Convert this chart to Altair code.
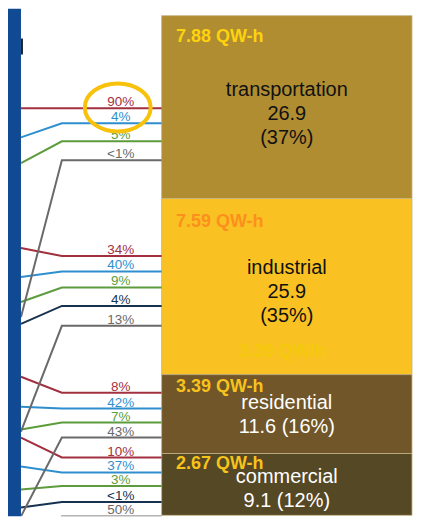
import altair as alt
import pandas as pd

# ---------------- data ----------------
sectors = ["transportation", "industrial", "residential", "commercial"]
sector_energy = [26.9, 25.9, 11.6, 9.1]
sector_share = [37, 35, 16, 12]
sector_qwh = ["7.88 QW-h", "7.59 QW-h", "3.39 QW-h", "2.67 QW-h"]

line_sector = (["transportation"] * 4 + ["industrial"] * 5 +
               ["residential"] * 4 + ["commercial"] * 5)
line_source = ["petroleum", "natural gas", "renewables", "electricity",
               "petroleum", "natural gas", "renewables", "coal", "electricity",
               "petroleum", "natural gas", "renewables", "electricity",
               "petroleum", "natural gas", "renewables", "coal", "electricity"]
line_label = ["90%", "4%", "5%", "<1%",
              "34%", "40%", "9%", "4%", "13%",
              "8%", "42%", "7%", "43%",
              "10%", "37%", "3%", "<1%", "50%"]
# vertical level (energy units, stacked from top) of the horizontal run into each box
line_level = [13.64, 15.84, 18.49, 21.27,
              35.36, 37.63, 39.98, 42.69, 45.63,
              55.46, 57.80, 59.86, 62.06,
              64.99, 67.19, 69.17, 71.52, 73.65]
# level where each flow enters the visible panel
line_origin = [13.64, 17.90, 21.71, 44.31,
               34.18, 38.44, 42.11, 45.33, 61.18,
               53.11, 57.51, 60.88, 73.65,
               62.06, 66.31, 69.69, 72.33, 87.30]

# ---------------- layout / style ----------------
PANEL_X, BEND_X, BOX_X0, BOX_X1 = 21, 62, 162, 413
PCT_X, QW_X, NAME_X = 121, 176.5, 287.5
qw_anchor = [3.81, 31.10, 55.31, 66.75]
name_anchor = [11.81, 38.00, 57.80, 68.81]

box_colors = ["#b08d31", "#f9c222", "#705628", "#554825"]
qw_colors = ["#fdd20e", "#fd8f1e", "#f7c31a", "#f7c31a"]
name_colors = ["#111111", "#111111", "#ffffff", "#ffffff"]
src_domain = ["petroleum", "natural gas", "renewables", "coal", "electricity"]
src_range = ["#a2303f", "#2f8fce", "#5c9c3c", "#16324f", "#6a6a6a"]
FONT = "Liberation Sans"

xs = alt.Scale(domain=[8, 413], nice=False, zero=False)
ys = alt.Scale(domain=[-1.03, 73.65], reverse=True, nice=False, zero=False)

# ---------------- tables ----------------
starts, acc = [], 0.0
for v in sector_energy:
    starts.append(acc)
    acc += v
boxes = pd.DataFrame({
    "sector": sectors,
    "y0": starts,
    "y1": [s + v for s, v in zip(starts, sector_energy)],
    "x0": BOX_X0, "x1": BOX_X1,
    "fill": box_colors,
})

name_lines = []
for name, v, p in zip(sectors, sector_energy, sector_share):
    if v > 20:
        name_lines.append([name, f"{v}", f"({p}%)"])
    else:
        name_lines.append([name, f"{v} ({p}%)"])
texts = pd.DataFrame({
    "sector": sectors, "qw": sector_qwh, "qw_color": qw_colors,
    "qw_y": qw_anchor, "name_y": name_anchor, "name_color": name_colors,
    "lines": name_lines, "qx": QW_X, "nx": NAME_X,
})

rows = []
for i in range(len(line_label)):
    pts = [(PANEL_X, line_origin[i]), (BEND_X, line_level[i]), (BOX_X0, line_level[i])]
    for k, (x, y) in enumerate(pts):
        rows.append({"id": i, "k": k, "x": x, "y": y, "source": line_source[i]})
lines = pd.DataFrame(rows)
labels = pd.DataFrame({"label": line_label, "source": line_source,
                       "y": line_level, "x": PCT_X})

src_color = alt.Color("source:N", scale=alt.Scale(domain=src_domain, range=src_range), legend=None)

# ---------------- layers ----------------
box_layer = alt.Chart(boxes).mark_rect(stroke="#c4b283", strokeWidth=1, strokeOpacity=0.8).encode(
    x=alt.X("x0:Q", scale=xs, axis=None), x2="x1:Q",
    y=alt.Y("y0:Q", scale=ys, axis=None), y2="y1:Q",
    color=alt.Color("fill:N", scale=None),
)

def line_layer(df):
    return alt.Chart(df).mark_line(strokeWidth=2, clip=True, interpolate="linear").encode(
        x=alt.X("x:Q", scale=xs, axis=None),
        y=alt.Y("y:Q", scale=ys, axis=None),
        detail="id:N", order="k:Q", color=src_color,
    )

colored_lines = line_layer(lines[lines.source != "electricity"])
gray_lines = line_layer(lines[lines.source == "electricity"])

pct_layer = alt.Chart(labels).mark_text(font=FONT, fontSize=13.5, baseline="alphabetic",
                                        align="center", dy=-2).encode(
    x=alt.X("x:Q", scale=xs, axis=None), y=alt.Y("y:Q", scale=ys, axis=None),
    text="label:N", color=src_color,
)

qw_layer = alt.Chart(texts).mark_text(font=FONT, fontSize=18, fontWeight="bold",
                                      align="left", baseline="alphabetic").encode(
    x=alt.X("qx:Q", scale=xs, axis=None), y=alt.Y("qw_y:Q", scale=ys, axis=None),
    text="qw:N", color=alt.Color("qw_color:N", scale=None),
)

name_layer = alt.Chart(texts).mark_text(font=FONT, fontSize=20, align="center",
                                        baseline="alphabetic", lineHeight=24).encode(
    x=alt.X("nx:Q", scale=xs, axis=None), y=alt.Y("name_y:Q", scale=ys, axis=None),
    text="lines", color=alt.Color("name_color:N", scale=None),
)

ghost = alt.Chart(pd.DataFrame({"t": ["3.39 QW/h"], "x": [283], "y": [50.17]})).mark_text(
    font=FONT, fontSize=18, fontWeight="bold", align="center", baseline="alphabetic",
    color="#f5c90c").encode(
    x=alt.X("x:Q", scale=xs, axis=None), y=alt.Y("y:Q", scale=ys, axis=None), text="t:N")

ellipse = alt.Chart(pd.DataFrame({"x": [118], "y": [13.5]})).mark_point(
    shape="M -1 0 A 1 0.73 0 1 1 1 0 A 1 0.73 0 1 1 -1 0 Z",
    size=4356, filled=False, stroke="#f8c20c", strokeWidth=4, opacity=1).encode(
    x=alt.X("x:Q", scale=xs, axis=None), y=alt.Y("y:Q", scale=ys, axis=None))

blue_strip = alt.Chart(pd.DataFrame({"x0": [8], "x1": [PANEL_X], "y0": [-1.03], "y1": [73.65]})).mark_rect(
    color="#0f4a93").encode(
    x=alt.X("x0:Q", scale=xs, axis=None), x2="x1:Q",
    y=alt.Y("y0:Q", scale=ys, axis=None), y2="y1:Q")

black_bar = alt.Chart(pd.DataFrame({"x0": [21], "x1": [23], "y0": [3.37], "y1": [5.72]})).mark_rect(
    color="#1c2430").encode(
    x=alt.X("x0:Q", scale=xs, axis=None), x2="x1:Q",
    y=alt.Y("y0:Q", scale=ys, axis=None), y2="y1:Q")

chart = alt.layer(
    box_layer, colored_lines, gray_lines, pct_layer, qw_layer, ghost, name_layer,
    ellipse, blue_strip, black_bar,
).properties(
    width=405, height=509, padding=0, background="white",
).configure_view(stroke=None)

chart.save("out.html", embed_options={"renderer": "svg", "actions": False})
